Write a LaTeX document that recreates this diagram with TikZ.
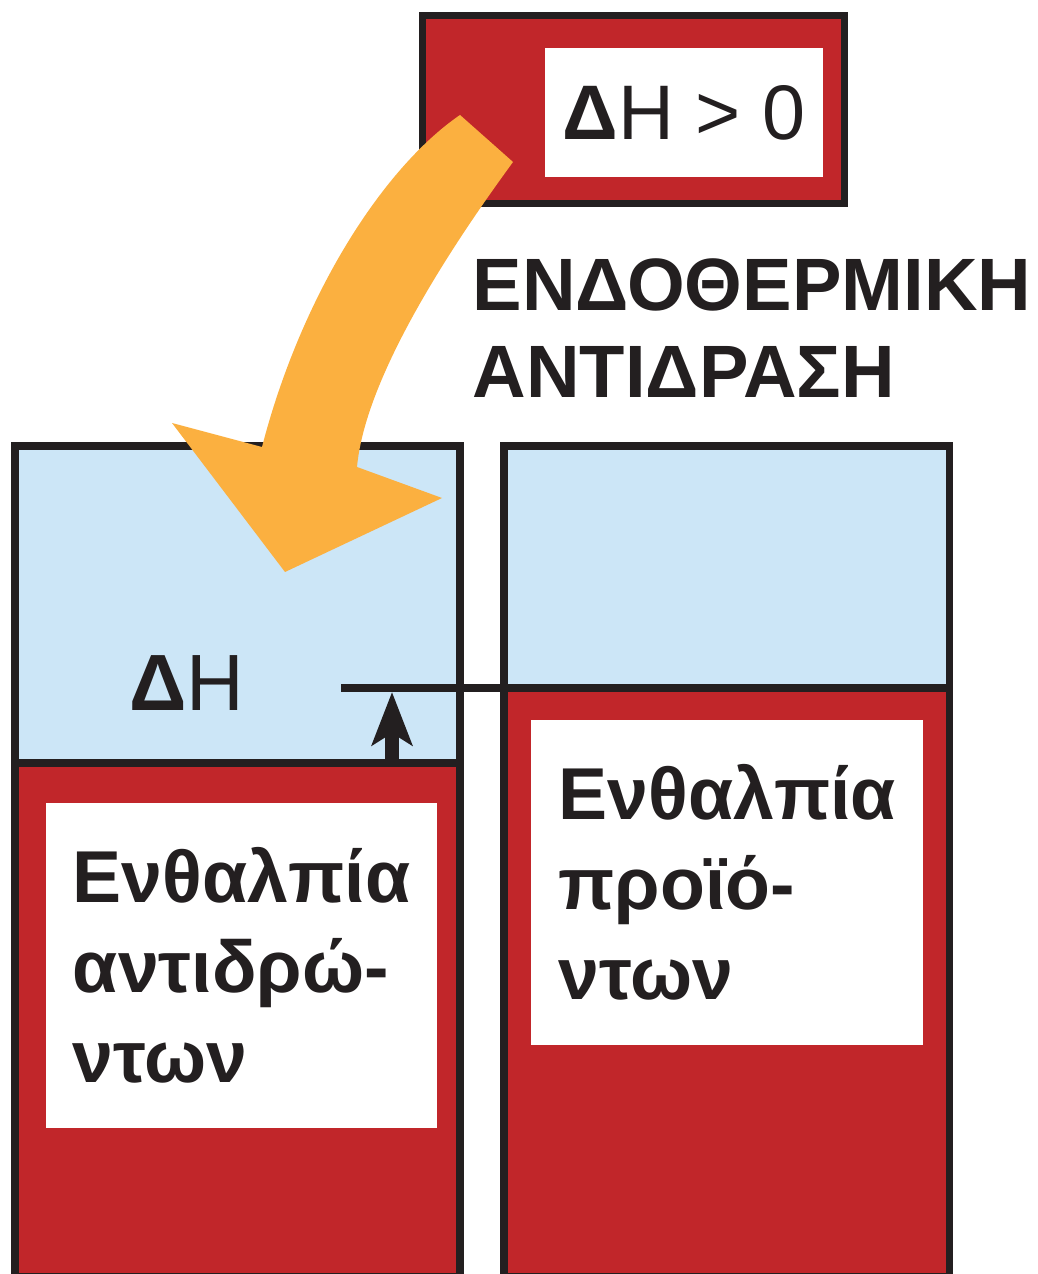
\documentclass[tikz,border=0pt]{standalone}
\usepackage{fontspec}
\setmainfont{Liberation Sans}
\usepackage{xcolor}
\usetikzlibrary{arrows.meta,positioning}

\definecolor{heatred}{RGB}{193,38,42}
\definecolor{levelblue}{RGB}{204,230,247}
\definecolor{heatorange}{RGB}{251,176,64}
\definecolor{inkblack}{RGB}{35,31,32}

\tikzset{
  frame/.style={draw=inkblack,line width=2pt},
  whitebox/.style={fill=white,text=inkblack,align=left,text width=3.37cm,
    inner xsep=0.27cm,inner ysep=0pt,minimum width=3.91cm,minimum height=3.25cm,
    font=\bfseries\fontsize{20.9}{25.6}\selectfont},
  dharrow/.style={draw=inkblack,line width=4pt,
    -{Stealth[length=0.53cm,width=0.4cm,inset=0.12cm]}},
}

\begin{document}
\begin{tikzpicture}[x=0.01cm,y=-0.01cm]
\useasboundingbox (0,0) rectangle (1037,1274);

% reactants column
\fill[levelblue] (15,446) rectangle (460,763);
\fill[heatred] (15,763) rectangle (460,1277);
\draw[frame] (15,446) rectangle (460,1277);
% products column
\fill[levelblue] (504,446) rectangle (949,688);
\fill[heatred] (504,688) rectangle (949,1277);
\draw[frame] (504,446) rectangle (949,1277);

% enthalpy levels
\coordinate (react) at (392,763);
\coordinate (prod) at (392,692);
\draw[frame] (15,763) -- (460,763);
\draw[frame] (341,688) -- (949,688);

\node[whitebox] (reactants) at (241.5,965.5) {Ενθαλπία\\αντιδρώ-\\ντων};
\node[whitebox] (products) at (727,882.5) {Ενθαλπία\\προϊό-\\ντων};

\node[anchor=base,text=inkblack,font=\fontsize{22.7}{26}\selectfont] (dh) at (187,710) {\textbf{Δ}H};
\draw[dharrow] (react) -- (prod);

% sign box
\node[frame,fill=heatred,minimum width=4.21cm,minimum height=1.87cm] (signbox) at (633.5,109.5) {};
\node[fill=white,text=inkblack,minimum width=2.78cm,minimum height=1.29cm,
  font=\fontsize{22}{26}\selectfont] (sign) at (684,112.5) {\textbf{Δ}H > 0};

\node[anchor=west,align=left,inner sep=0pt,text=inkblack,
  font=\bfseries\fontsize{21.1}{24.75}\selectfont] (title) at (472,328) {ΕΝΔΟΘΕΡΜΙΚΗ\\ΑΝΤΙΔΡΑΣΗ};

% heat arrow
\fill[heatorange] (460,115) -- (513,162) .. controls (445,255) and (365,380) .. (357,467)
  -- (442,498) -- (285,572) -- (172,423) -- (262,447)
  .. controls (300,300) and (380,170) .. (460,115) -- cycle;
\end{tikzpicture}
\end{document}
